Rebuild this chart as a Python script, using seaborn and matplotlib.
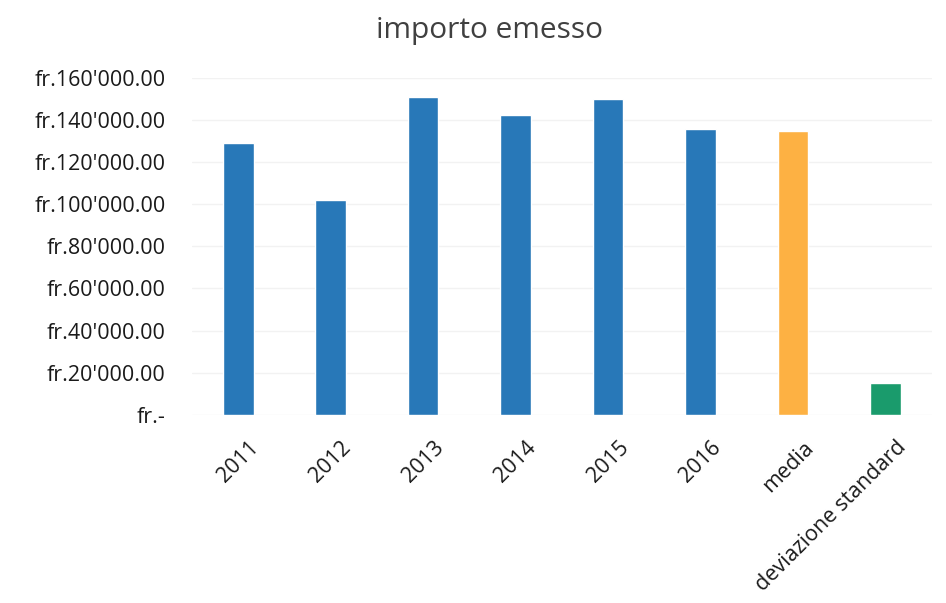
import pandas as pd
import matplotlib.pyplot as plt
import matplotlib.transforms as mtransforms
import seaborn as sns
from matplotlib.ticker import FuncFormatter

categories = ["2011", "2012", "2013", "2014", "2015", "2016", "media", "deviazione standard"]
values = [129000, 102000, 151000, 142500, 150000, 135500, 134800, 15200]
bar_colors = ["#2878B8", "#2878B8", "#2878B8", "#2878B8", "#2878B8", "#2878B8", "#FDB143", "#1A9B6C"]
y_ticks = [0, 20000, 40000, 60000, 80000, 100000, 120000, 140000, 160000]

df = pd.DataFrame({"categoria": categories, "importo": values})

sns.set_style("white")
plt.rcParams["font.family"] = ["Open Sans", "DejaVu Sans"]

fig = plt.figure(figsize=(9.46, 6.03), dpi=100)
ax = fig.add_axes([0.203, 0.312, 0.782, 0.559])

sns.barplot(data=df, x="categoria", y="importo", hue="categoria",
            palette=bar_colors, width=0.33, legend=False, ax=ax, saturation=1)


def fr_fmt(v, pos):
    if v == 0:
        return "fr.-"
    return "fr." + f"{v:,.2f}".replace(",", "'")


ax.set_ylim(0, 160000)
ax.set_yticks(y_ticks)
ax.yaxis.set_major_formatter(FuncFormatter(fr_fmt))
ax.yaxis.grid(True, color="#F2F2F2", linewidth=1)
ax.set_axisbelow(True)
for s in ax.spines.values():
    s.set_visible(False)
ax.tick_params(axis="y", labelsize=15.5, colors="#1A1A1A", length=0, pad=19)
ax.tick_params(axis="x", labelsize=15.5, colors="#1A1A1A", length=0, pad=16)
shift = mtransforms.ScaledTranslation(0.1, 0, fig.dpi_scale_trans)
for lbl in ax.get_xticklabels():
    lbl.set_rotation(45)
    lbl.set_ha("right")
    lbl.set_rotation_mode("anchor")
    lbl.set_transform(lbl.get_transform() + shift)
ax.set_xlabel("")
ax.set_ylabel("")
ax.set_xlim(-0.5, 7.5)

fig.text(0.517, 0.95, "importo emesso", ha="center", va="center", fontsize=21.5, color="#404040")

fig.savefig("out.png", dpi=100)
